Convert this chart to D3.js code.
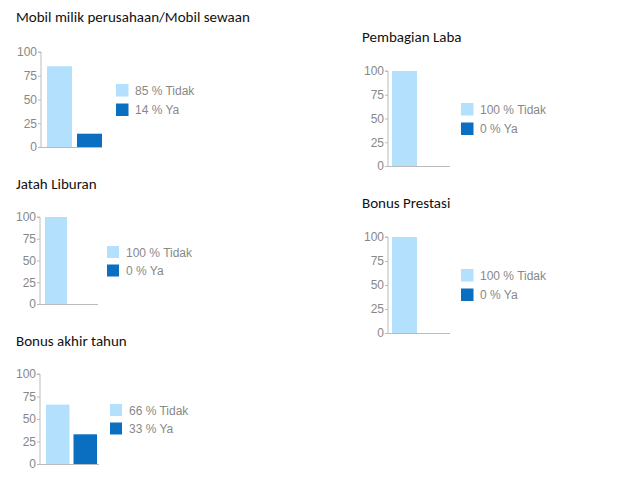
<!DOCTYPE html>
<html>
<head>
<meta charset="utf-8">
<script src="https://cdn.jsdelivr.net/npm/d3@7"></script>
<style>
  html, body { margin: 0; padding: 0; background: #fff; }
  svg { display: block; }
</style>
</head>
<body>
<svg id="chart" width="621" height="499"></svg>
<script>
// ---- data ----
const titles = ["Mobil milik perusahaan/Mobil sewaan", "Jatah Liburan", "Bonus akhir tahun", "Pembagian Laba", "Bonus Prestasi"];
const categories = ["Tidak", "Ya"];
const tidakValues = [85, 100, 66, 100, 100];
const yaValues = [14, 0, 33, 0, 0];
const yTicks = [0, 25, 50, 75, 100];

// ---- layout (positions only) ----
const layouts = [
  { tx: 16,  ty: 22,  ax: 41,  y0: 147, y1: 52,  b0: 47,  b1: 102, pi: 0.167, bl: 102, lx: 116, ly: 84,  lg: 19.5, sw: 12.5 },
  { tx: 16,  ty: 189, ax: 40,  y0: 304, y1: 217, b0: 45,  b1: 94,  pi: 0.185, bl: 98,  lx: 107, ly: 246, lg: 18.5, sw: 12 },
  { tx: 16,  ty: 346, ax: 40,  y0: 464, y1: 374, b0: 46,  b1: 97,  pi: 0.145, bl: 99,  lx: 110, ly: 404, lg: 18.5, sw: 12 },
  { tx: 362, ty: 42,  ax: 388, y0: 166, y1: 71,  b0: 392, b1: 447, pi: 0.167, bl: 450, lx: 461, ly: 103, lg: 19.5, sw: 12.5 },
  { tx: 362, ty: 208, ax: 388, y0: 333, y1: 237, b0: 392, b1: 447, pi: 0.167, bl: 450, lx: 461, ly: 269, lg: 19.5, sw: 12.5 }
];

const colors = { Tidak: "#b3e0fc", Ya: "#0a6fc0" };
const svg = d3.select("#chart");

titles.forEach((title, i) => {
  const L = layouts[i];
  const values = [tidakValues[i], yaValues[i]];
  const g = svg.append("g");

  g.append("text")
    .attr("x", L.tx).attr("y", L.ty)
    .attr("font-family", "Carlito, Lato, 'Open Sans', sans-serif")
    .attr("font-size", 15)
    .attr("fill", "#111")
    .text(title);

  const y = d3.scaleLinear().domain([0, 100]).range([L.y0, L.y1]);
  const x = d3.scaleBand().domain(categories).range([L.b0, L.b1]).paddingInner(L.pi).paddingOuter(0);

  // bars
  g.selectAll("rect.bar").data(categories).enter().append("rect")
    .attr("class", "bar")
    .attr("x", d => x(d))
    .attr("width", x.bandwidth())
    .attr("y", (d, k) => y(values[k]))
    .attr("height", (d, k) => y(0) - y(values[k]))
    .attr("fill", d => colors[d]);

  // y axis
  const axis = d3.axisLeft(y).tickValues(yTicks).tickSize(3).tickPadding(1).tickFormat(d3.format("d"));
  const ag = g.append("g").attr("transform", `translate(${L.ax},0)`).call(axis);
  ag.select(".domain").attr("stroke", "#bbb").attr("d", `M-3,${L.y1}H0V${L.y0}`);
  ag.selectAll(".tick line").attr("stroke", "#bbb");
  ag.selectAll(".tick text")
    .attr("font-family", "'Liberation Sans', Arial, sans-serif")
    .attr("font-size", 12)
    .attr("fill", "#888");

  // baseline
  g.append("line")
    .attr("x1", L.ax).attr("x2", L.bl)
    .attr("y1", y(0) + 0.5).attr("y2", y(0) + 0.5)
    .attr("stroke", "#bbb");

  // legend
  categories.forEach((c, k) => {
    const yy = L.ly + k * L.lg;
    g.append("rect")
      .attr("x", L.lx).attr("y", yy)
      .attr("width", L.sw).attr("height", L.sw)
      .attr("fill", colors[c]);
    g.append("text")
      .attr("x", L.lx + 19).attr("y", yy + L.sw / 2 + 4.5)
      .attr("font-family", "'Liberation Sans', Arial, sans-serif")
      .attr("font-size", 12)
      .attr("fill", "#888")
      .text(`${values[k]} % ${c}`);
  });
});
</script>
</body>
</html>
